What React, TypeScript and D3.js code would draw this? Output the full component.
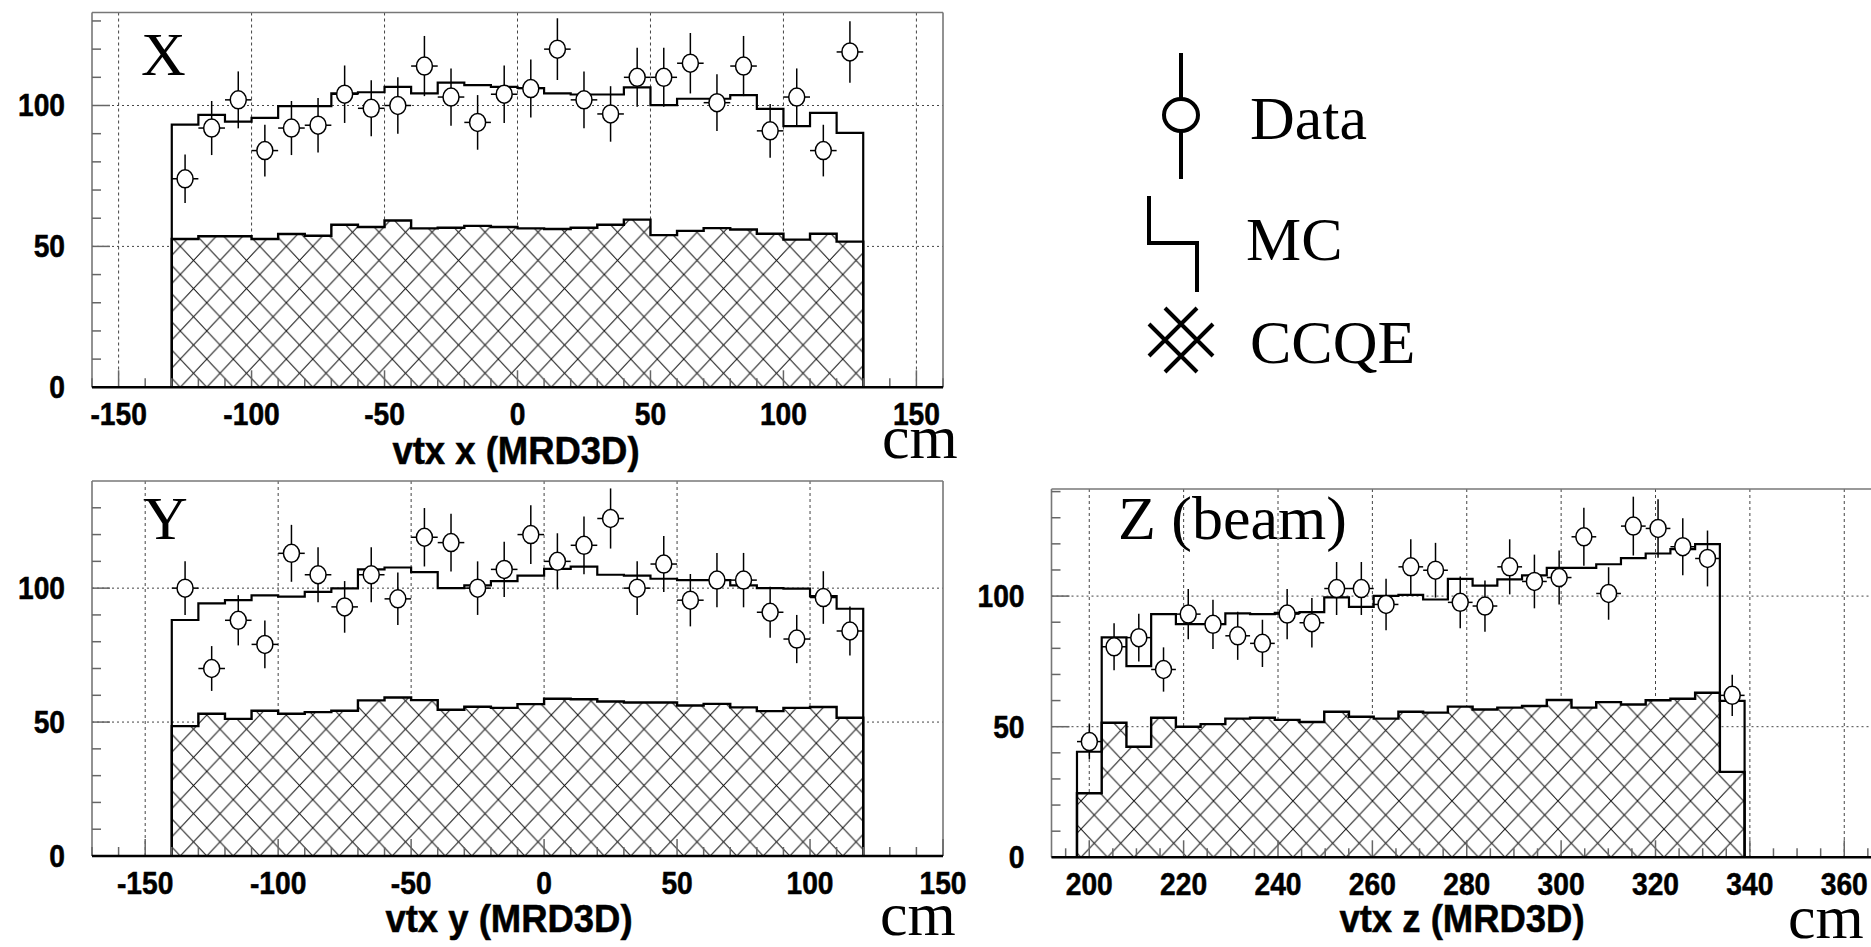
import React from 'react';
import * as d3 from 'd3';

const W = 1871;
const H = 947;

// ---------- Panel X (vtx x) ----------
const xBinStart = -130;
const xBinWidth = 10;
const xData = [74, 92, 102, 84, 92, 93, 104, 99, 100, 114, 103, 94, 104, 106, 120, 102, 97, 110, 110, 115, 101, 114, 91, 103, 84, 119];
const xMC = [93.2, 96.7, 94.3, 95.6, 99.8, 99.8, 104.3, 104.7, 106.6, 104.3, 108.1, 107.2, 106.6, 106.2, 104.3, 103.9, 103.9, 106.4, 100.1, 102.4, 102.4, 103.7, 98.8, 92.7, 97.4, 90.3];
const xCCQE = [52.6, 53.6, 53.6, 52.6, 54.4, 53.8, 57.7, 56.9, 59.2, 56.4, 56.6, 57.3, 56.9, 56.4, 56.2, 56.6, 57.7, 59.5, 54.0, 55.5, 56.5, 56.0, 54.5, 52.4, 54.5, 51.7];
const xTickLabels = [-150, -100, -50, 0, 50, 100, 150];

// ---------- Panel Y (vtx y) ----------
const yBinStart = -140;
const yBinWidth = 10;
const yData = [100, 70, 88, 79, 113, 105, 93, 105, 96, 119, 117, 100, 107, 120, 110, 116, 126, 100, 109, 95.5, 103, 103, 91, 81, 96.5, 84];
const yMC = [88.1, 94.3, 95.5, 97.3, 96.8, 98.6, 99.9, 107, 107.7, 106, 100, 101, 102.6, 104.7, 107.2, 108, 105, 104.7, 103.5, 103, 103, 101, 100, 99.8, 97, 92.3];
const yCCQE = [48.5, 53.1, 51.2, 54.2, 53.1, 53.7, 54.2, 58.1, 59.2, 58.2, 54.6, 55.7, 55.3, 56.7, 58.7, 58.5, 57.7, 57.3, 57.3, 56.2, 56.8, 55.5, 54.1, 55.3, 55.6, 51.6];
const yTickLabels = [-150, -100, -50, 0, 50, 100, 150];

// ---------- Panel Z (vtx z, beam) ----------
const zBinStart = 197.4;
const zBinWidth = 5.24;
const zData = [44.3, 80.6, 84.1, 71.9, 93.1, 89.2, 84.8, 81.9, 93.1, 89.8, 102.9, 102.9, 96.8, 111.2, 109.9, 97.6, 96.2, 111.2, 105.6, 107.1, 122.7, 101, 126.8, 125.9, 118.9, 114.4, 62];
const zMC = [40.4, 84.2, 73.2, 93.1, 89.3, 89.3, 93.4, 93.1, 93.6, 93.9, 99.5, 95.9, 100.1, 100.5, 98.7, 106.6, 104, 106.4, 107.9, 110.8, 110.8, 112.2, 114.5, 116.3, 118, 119.9, 59.9];
const zCCQE = [24.5, 51.5, 42.3, 53.4, 50, 51, 53.1, 53.4, 52.6, 51.8, 55.7, 53.8, 53.1, 55.7, 55.4, 57.7, 56.6, 57.3, 57.9, 60.2, 57.3, 59.4, 58.5, 60.1, 60.7, 63, 32.7];
const zTickLabels = [200, 220, 240, 260, 280, 300, 320, 340, 360];

const yAxisLabels = [0, 50, 100];

const legendLabels = ['Data', 'MC', 'CCQE'];

type PanelCfg = {
  id: string;
  left: number; right: number; top: number; bottom: number;
  xDomain: [number, number]; yMax: number;
  binStart: number; binWidth: number;
  data: number[]; mc: number[]; ccqe: number[];
  xTicks: number[]; minorStep: number;
  name: string; nameX: number; nameY: number;
  title: string; titleX: number; titleY: number;
  cmX: number; cmY: number;
  hatchPhase: number;
};

const panels: PanelCfg[] = [
  {
    id: 'x', left: 92, right: 943, top: 12.5, bottom: 387.3,
    xDomain: [-160, 160], yMax: 133,
    binStart: xBinStart, binWidth: xBinWidth,
    data: xData, mc: xMC, ccqe: xCCQE,
    xTicks: xTickLabels, minorStep: 10,
    name: 'X', nameX: 141, nameY: 75,
    title: 'vtx x (MRD3D)', titleX: 516, titleY: 464,
    cmX: 882, cmY: 458, hatchPhase: 8.5,
  },
  {
    id: 'y', left: 92, right: 943, top: 481, bottom: 856,
    xDomain: [-170, 150], yMax: 140,
    binStart: yBinStart, binWidth: yBinWidth,
    data: yData, mc: yMC, ccqe: yCCQE,
    xTicks: yTickLabels, minorStep: 10,
    name: 'Y', nameX: 143, nameY: 539,
    title: 'vtx y (MRD3D)', titleX: 509, titleY: 932,
    cmX: 880, cmY: 935, hatchPhase: 8.5,
  },
  {
    id: 'z', left: 1051.5, right: 1882, top: 489, bottom: 857.3,
    xDomain: [192, 368], yMax: 141,
    binStart: zBinStart, binWidth: zBinWidth,
    data: zData, mc: zMC, ccqe: zCCQE,
    xTicks: zTickLabels, minorStep: 5,
    name: 'Z (beam)', nameX: 1118, nameY: 539,
    title: 'vtx z (MRD3D)', titleX: 1462, titleY: 932,
    cmX: 1788, cmY: 938, hatchPhase: 4,
  },
];

const SANS = '"Liberation Sans", Arial, Helvetica, sans-serif';
const SERIF = '"Liberation Serif", "Times New Roman", Times, serif';
const HATCH_W = 26.5;
const HATCH_H = 28.2;

function CondText({ x, y, children, size, anchor = 'middle', sx = 0.91 }: any) {
  return (
    <text
      transform={`translate(${x},${y}) scale(${sx},1)`}
      textAnchor={anchor}
      fontFamily={SANS}
      fontWeight="bold"
      fontSize={size}
      fill="#000"
      stroke="#000"
      strokeWidth={0.5}
    >
      {children}
    </text>
  );
}

function Panel({ cfg }: { cfg: PanelCfg }) {
  const xs = d3.scaleLinear().domain(cfg.xDomain).range([cfg.left, cfg.right]);
  const ys = d3.scaleLinear().domain([0, cfg.yMax]).range([cfg.bottom, cfg.top]);
  const n = cfg.mc.length;
  const edges = d3.range(n + 1).map((i) => cfg.binStart + i * cfg.binWidth);
  const centers = d3.range(n).map((i) => cfg.binStart + (i + 0.5) * cfg.binWidth);

  const stepPts = (vals: number[]) => {
    const pts: [number, number][] = [[edges[0], 0]];
    vals.forEach((v, i) => pts.push([edges[i], v]));
    pts.push([edges[n], vals[n - 1]]);
    pts.push([edges[n], 0]);
    return pts;
  };
  const line = d3
    .line<[number, number]>()
    .x((d) => xs(d[0]))
    .y((d) => ys(d[1]))
    .curve(d3.curveStepAfter);
  const area = d3
    .area<[number, number]>()
    .x((d) => xs(d[0]))
    .y0(ys(0))
    .y1((d) => ys(d[1]))
    .curve(d3.curveStepAfter);

  const [d0, d1] = cfg.xDomain;
  const majorStep = cfg.xTicks[1] - cfg.xTicks[0];
  const minorX = d3.range(Math.ceil(d0 / cfg.minorStep) * cfg.minorStep, d1 + 0.001, cfg.minorStep);
  const minorY = d3.range(0, cfg.yMax, 10);
  const gridX = cfg.xTicks.filter((t) => t > d0 && t < d1);

  const patId = `hatch-${cfg.id}`;
  const w = HATCH_W;
  const h = HATCH_H;

  return (
    <g>
      <defs>
        <pattern
          id={patId}
          patternUnits="userSpaceOnUse"
          width={w}
          height={h}
          x={xs(cfg.binStart) + cfg.hatchPhase}
          y={ys(0)}
        >
          <rect width={w} height={h} fill="#fff" />
          <path
            d={`M0,0L${w},${h}M${w},0L0,${h}M${-w * 0.05},${h * 0.95}L${w * 0.05},${h * 1.05}M${w * 0.95},${-h * 0.05}L${w * 1.05},${h * 0.05}M${-w * 0.05},${h * 0.05}L${w * 0.05},${-h * 0.05}M${w * 0.95},${h * 1.05}L${w * 1.05},${h * 0.95}`}
            stroke="#111"
            strokeWidth={1}
          />
        </pattern>
      </defs>

      {/* grid */}
      {gridX.map((t) => (
        <line key={`gx${t}`} x1={xs(t)} x2={xs(t)} y1={cfg.top} y2={cfg.bottom}
          stroke="#444" strokeWidth={1} strokeDasharray="3,3" />
      ))}
      {[50, 100].map((t) => (
        <line key={`gy${t}`} x1={cfg.left} x2={cfg.right} y1={ys(t)} y2={ys(t)}
          stroke="#444" strokeWidth={1} strokeDasharray="2,3" />
      ))}

      {/* CCQE hatched area */}
      <path d={area(stepPts(cfg.ccqe)) || ''} fill={`url(#${patId})`} stroke="none" />
      <path d={line(stepPts(cfg.ccqe)) || ''} fill="none" stroke="#000" strokeWidth={2.4} />
      {/* MC histogram */}
      <path d={line(stepPts(cfg.mc)) || ''} fill="none" stroke="#000" strokeWidth={2.2} />

      {/* data points */}
      {cfg.data.map((v, i) => {
        const cx = xs(centers[i]);
        const cy = ys(v);
        const err = Math.sqrt(v);
        return (
          <g key={`d${i}`} stroke="#000" strokeWidth={1.5}>
            <line x1={cx} x2={cx} y1={ys(v + err)} y2={ys(v - err)} />
            <line x1={xs(edges[i])} x2={xs(edges[i + 1])} y1={cy} y2={cy} />
            <ellipse cx={cx} cy={cy} rx={8} ry={9} fill="#fff" />
          </g>
        );
      })}

      {/* frame */}
      <line x1={cfg.left} x2={cfg.left} y1={cfg.top} y2={cfg.bottom} stroke="#777" strokeWidth={1.6} />
      <line x1={cfg.left} x2={cfg.right} y1={cfg.top} y2={cfg.top} stroke="#777" strokeWidth={1.6} />
      <line x1={cfg.right} x2={cfg.right} y1={cfg.top} y2={cfg.bottom} stroke="#777" strokeWidth={1.6} />

      {/* y ticks */}
      {minorY.map((t) => (
        <line key={`ty${t}`} x1={cfg.left} x2={cfg.left + (t % 50 === 0 ? 18 : 9)} y1={ys(t)} y2={ys(t)}
          stroke="#666" strokeWidth={1.5} />
      ))}
      {/* x ticks */}
      {minorX.map((t) => (
        <line key={`tx${t}`} x1={xs(t)} x2={xs(t)} y1={cfg.bottom}
          y2={cfg.bottom - (Math.abs(t % majorStep) < 0.001 ? 17 : 9)}
          stroke="#666" strokeWidth={1.5} />
      ))}
      <line x1={cfg.left} x2={cfg.right} y1={cfg.bottom} y2={cfg.bottom} stroke="#000" strokeWidth={2.6} />

      {/* tick labels */}
      {cfg.xTicks.map((t) => (
        <CondText key={`lx${t}`} x={xs(t)} y={cfg.bottom + 38} size={31}>{t}</CondText>
      ))}
      {yAxisLabels.map((t) => (
        <CondText key={`ly${t}`} x={cfg.left - 27} y={ys(t) + 11} size={31} anchor="end">{t}</CondText>
      ))}

      {/* titles */}
      <CondText x={cfg.titleX} y={cfg.titleY} size={38} sx={0.96}>{cfg.title}</CondText>
      <text x={cfg.cmX} y={cfg.cmY} fontFamily={SERIF} fontSize={62}>cm</text>
      <text x={cfg.nameX} y={cfg.nameY} fontFamily={SERIF} fontSize={62}>{cfg.name}</text>
    </g>
  );
}

function Legend() {
  const cx = 1181;
  const cy = 340;
  const a = 16;
  const b = 32;
  return (
    <g stroke="#000" strokeWidth={4} fill="none">
      <line x1={cx} x2={cx} y1={53} y2={98} />
      <line x1={cx} x2={cx} y1={132} y2={179} />
      <ellipse cx={cx} cy={115} rx={17} ry={16} />
      <path d={`M1149,196 L1149,243 L1197,243 L1197,292`} strokeLinejoin="miter" />
      {/* double cross (hatch symbol) */}
      <path
        d={`M${cx - b},${cy + a} L${cx + a},${cy - b}
            M${cx - a},${cy + b} L${cx + b},${cy - a}
            M${cx - b},${cy - a} L${cx + a},${cy + b}
            M${cx - a},${cy - b} L${cx + b},${cy + a}`}
      />
      <g stroke="none" fill="#000" fontFamily={SERIF} fontSize={62}>
        <text x={1250} y={139}>{legendLabels[0]}</text>
        <text x={1246} y={260}>{legendLabels[1]}</text>
        <text x={1250} y={363}>{legendLabels[2]}</text>
      </g>
    </g>
  );
}

export default function App() {
  return (
    <div style={{ position: 'absolute', left: 0, top: 0, width: W, height: H, overflow: 'hidden', background: '#fff' }}>
      <svg width={W} height={H} viewBox={`0 0 ${W} ${H}`} style={{ display: 'block' }}>
        <rect width={W} height={H} fill="#fff" />
        {panels.map((p) => (
          <Panel key={p.id} cfg={p} />
        ))}
        <Legend />
      </svg>
    </div>
  );
}
